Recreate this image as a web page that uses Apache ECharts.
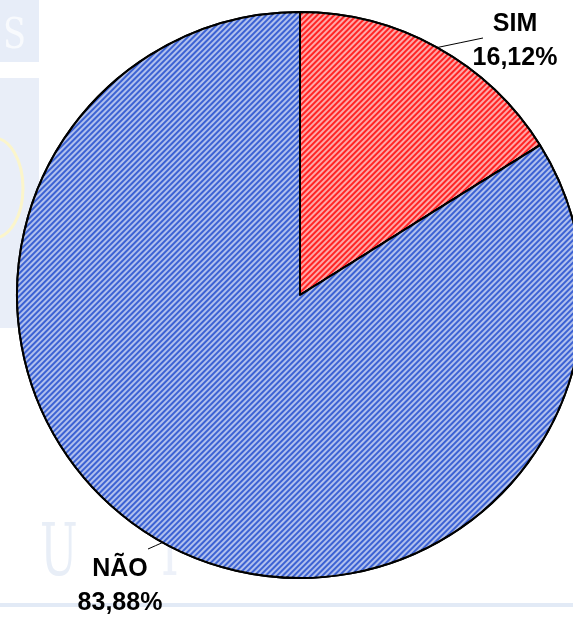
<!DOCTYPE html>
<html>
<head>
<meta charset="utf-8">
<script src="https://cdn.jsdelivr.net/npm/echarts@6/dist/echarts.min.js"></script>
<style>
  html, body { margin: 0; padding: 0; background: #fff; }
  #main { width: 573px; height: 618px; }
</style>
</head>
<body>
<div id="main"></div>
<script>
// dados
var categorias = ['SIM', 'NÃO'];
var valores = [16.12, 83.88];
var cores = ['#ff2424', '#3c62d3'];

// posicao dos rotulos (centro do bloco de texto) e fim da linha guia
var posRotulos = [[515, 41], [120, 586]];
var fimLinha = [[483, 38], [148, 549]];

var myChart = echarts.init(document.getElementById('main'));

var dados = categorias.map(function (nome, i) {
    return {
        name: nome,
        value: valores[i],
        itemStyle: { color: cores[i] }
    };
});

var option = {
    backgroundColor: '#fff',
    animation: false,
    // marca d'agua do fundo
    graphic: [
        { type: 'rect', z: -10, shape: { x: 0, y: 0, width: 39, height: 62 }, style: { fill: '#e7edf8' } },
        { type: 'text', z: -9, x: 3, y: 16, scaleX: 0.8, style: { text: 'S', fill: '#f8fafd', font: '42px "DejaVu Serif"' } },
        { type: 'rect', z: -10, shape: { x: 0, y: 78, width: 39, height: 250 }, style: { fill: '#e9eef8' } },
        { type: 'ellipse', z: -9, shape: { cx: -6, cy: 188, rx: 29, ry: 50 }, style: { stroke: '#fbf5cb', lineWidth: 3, fill: null } },
        { type: 'text', z: -9, x: 40, y: 520, scaleX: 0.62, style: { text: 'U', fill: '#e8eef7', font: '72px "DejaVu Serif"' } },
        { type: 'text', z: -9, x: 155, y: 520, scaleX: 0.62, style: { text: 'T', fill: '#edf1f9', font: '72px "DejaVu Serif"' } },
        { type: 'rect', z: -10, shape: { x: 0, y: 603, width: 573, height: 4 }, style: { fill: '#e2eaf6' } }
    ],
    series: [{
        type: 'pie',
        center: [300, 295],
        radius: 283,
        startAngle: 90,
        clockwise: true,
        silent: true,
        data: dados,
        itemStyle: {
            borderColor: '#000',
            borderWidth: 2,
            decal: {
                symbol: 'rect',
                color: 'rgba(255,255,255,0.6)',
                dashArrayX: [1, 0],
                dashArrayY: [1.5, 1.5],
                rotation: -Math.PI / 4
            }
        },
        label: {
            show: true,
            position: 'outside',
            formatter: function (p) {
                return p.name + '\n' + p.value.toFixed(2).replace('.', ',') + '%';
            },
            color: '#000',
            fontFamily: '"Liberation Sans", Arial, sans-serif',
            fontWeight: 'bold',
            fontSize: 25,
            lineHeight: 34,
            align: 'center'
        },
        labelLine: {
            show: true,
            length: 10,
            length2: 30,
            lineStyle: { color: '#000', width: 1 }
        },
        labelLayout: function (params) {
            var i = params.dataIndex;
            var p0 = params.labelLinePoints ? params.labelLinePoints[0] : null;
            var out = {
                x: posRotulos[i][0],
                y: posRotulos[i][1],
                align: 'center',
                verticalAlign: 'middle'
            };
            if (p0) {
                var p2 = fimLinha[i];
                out.labelLinePoints = [
                    [p0[0], p0[1]],
                    [(p0[0] + p2[0]) / 2, (p0[1] + p2[1]) / 2],
                    [p2[0], p2[1]]
                ];
            }
            return out;
        }
    }]
};

myChart.setOption(option);

window.onresize = function () {
    myChart.resize();
};
</script>
</body>
</html>
